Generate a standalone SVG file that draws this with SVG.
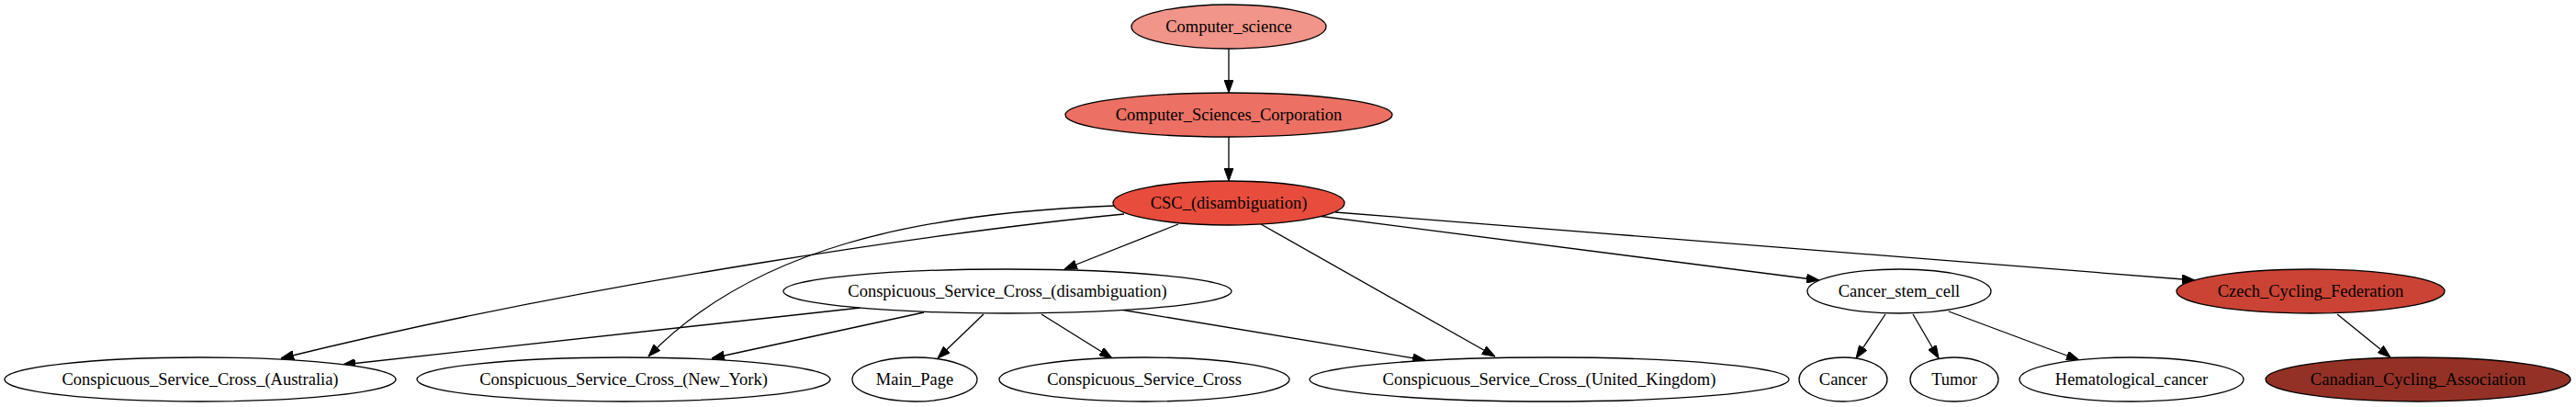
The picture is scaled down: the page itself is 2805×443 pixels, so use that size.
<svg xmlns="http://www.w3.org/2000/svg" width="2805" height="443" viewBox="0 0 2805 443">
<style>
ellipse{stroke:#000;stroke-width:1.3}
.w{fill:#fff}
text{font-family:"Liberation Serif","Times New Roman",serif;font-size:18.5px;text-anchor:middle;fill:#000}
#edges path{fill:none;stroke:#000;stroke-width:1.3;marker-end:url(#arr)}
</style>
<defs>
<marker id="arr" viewBox="0 0 14 10" refX="14" refY="5" markerWidth="14" markerHeight="10" markerUnits="userSpaceOnUse" orient="auto">
<path d="M0,0 L14,5 L0,10 z" fill="#000" stroke="#000" stroke-width="1"/>
</marker>
</defs>
<rect width="2805" height="443" fill="#fff"/>
<g id="edges">
<path d="M1338,53 L1338,101"/>
<path d="M1338,148.5 L1338,197"/>
<path d="M1283,244 L1159,293"/>
<path d="M1224,233 C1050,250 650,305 306,390"/>
<path d="M1213,224 C1000,232 820,270 706,388"/>
<path d="M1373,244 L1628,388"/>
<path d="M1435,235 L1981,305"/>
<path d="M1454,231 L2390,305"/>
<path d="M937,335 L373,397"/>
<path d="M1006,340 L775,390"/>
<path d="M1071,342 L1021,390"/>
<path d="M1134,342 L1211,390"/>
<path d="M1220,337 L1552,392"/>
<path d="M2053,342 L2021,390"/>
<path d="M2083,342 L2111,390"/>
<path d="M2122,339 L2264,392"/>
<path d="M2545,342 L2603,389"/>
</g>
<g id="n_computer_science"><ellipse cx="1338" cy="29" rx="106" ry="24" fill="#F1948A"/><text x="1338" y="35">Computer_science</text></g>
<g id="n_csc_corp"><ellipse cx="1338" cy="125" rx="178" ry="24" fill="#EC7063"/><text x="1338" y="131">Computer_Sciences_Corporation</text></g>
<g id="n_csc"><ellipse cx="1338" cy="221" rx="126" ry="24" fill="#E74C3C"/><text x="1338" y="227">CSC_(disambiguation)</text></g>
<g id="n_csc_disamb"><ellipse class="w" cx="1097" cy="317" rx="244" ry="24"/><text x="1097" y="323">Conspicuous_Service_Cross_(disambiguation)</text></g>
<g id="n_cancer_stem_cell"><ellipse class="w" cx="2068" cy="317" rx="100" ry="24"/><text x="2068" y="323">Cancer_stem_cell</text></g>
<g id="n_czech"><ellipse cx="2516" cy="317" rx="146" ry="24" fill="#CB4335"/><text x="2516" y="323">Czech_Cycling_Federation</text></g>
<g id="n_australia"><ellipse class="w" cx="218" cy="413" rx="213" ry="24"/><text x="218" y="419">Conspicuous_Service_Cross_(Australia)</text></g>
<g id="n_new_york"><ellipse class="w" cx="679" cy="413" rx="225" ry="24"/><text x="679" y="419">Conspicuous_Service_Cross_(New_York)</text></g>
<g id="n_main_page"><ellipse class="w" cx="996" cy="413" rx="68" ry="24"/><text x="996" y="419">Main_Page</text></g>
<g id="n_csc_cross"><ellipse class="w" cx="1246" cy="413" rx="158" ry="24"/><text x="1246" y="419">Conspicuous_Service_Cross</text></g>
<g id="n_uk"><ellipse class="w" cx="1687" cy="413" rx="261" ry="24"/><text x="1687" y="419">Conspicuous_Service_Cross_(United_Kingdom)</text></g>
<g id="n_cancer"><ellipse class="w" cx="2007" cy="413" rx="48" ry="24"/><text x="2007" y="419">Cancer</text></g>
<g id="n_tumor"><ellipse class="w" cx="2128" cy="413" rx="48" ry="24"/><text x="2128" y="419">Tumor</text></g>
<g id="n_hema"><ellipse class="w" cx="2321" cy="413" rx="122" ry="24"/><text x="2321" y="419">Hematological_cancer</text></g>
<g id="n_canadian"><ellipse cx="2633" cy="413" rx="166" ry="24" fill="#943126"/><text x="2633" y="419">Canadian_Cycling_Association</text></g>
</svg>
